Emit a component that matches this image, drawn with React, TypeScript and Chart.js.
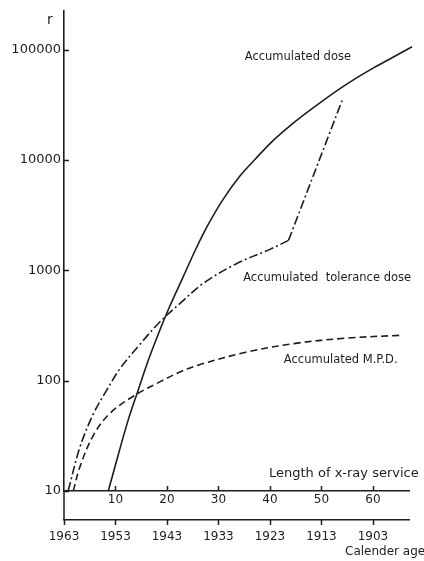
import React, { useEffect, useRef } from "react";
import { Chart, registerables } from "chart.js";

Chart.register(...registerables);

// ---- data ----
const serviceTicks = [10, 20, 30, 40, 50, 60];
const calendarTicks = [1963, 1953, 1943, 1933, 1923, 1913, 1903];
const doseTicks = [10, 100, 1000, 10000, 100000];

const doseYears = [8.6, 10.5, 12.4, 14.4, 16.3, 18.3, 20.6, 23.1, 25.4, 27.8, 30.9, 34.2, 37.3, 40.4, 43.7, 47, 50.3, 53.6, 56.9, 60.2, 63.7, 67.6];
const doseValues = [10, 21, 43, 82, 150, 264, 480, 865, 1490, 2500, 4400, 7200, 10400, 14700, 20100, 26600, 34600, 44400, 55800, 68800, 84700, 106500];

const toleranceYears = [0.8, 3.1, 5.7, 8.3, 10.9, 14.8, 18.6, 22.5, 27, 33.5, 40, 43.6];
const toleranceValues = [10, 25, 50, 82, 129, 215, 340, 500, 760, 1150, 1550, 1870];
const toleranceJumpYears = [43.6, 54];
const toleranceJumpValues = [1870, 34600];

const mpdYears = [1.8, 3.1, 5.7, 8.9, 13.8, 18.6, 22.5, 26.4, 35.3, 45, 54.8, 65.4];
const mpdValues = [10, 16.6, 32, 50.5, 74, 97.5, 120, 140, 181, 218, 243, 258];

const seriesLabels = ["Accumulated dose", "Accumulated  tolerance dose", "Accumulated M.P.D."];
const labelYears = [35.1, 34.8, 42.7];
const labelValues = [85600, 850, 153];

const ink = "#1d1d1d";
const family = "'DejaVu Sans', sans-serif";

const pts = (xs: number[], ys: number[]) => xs.map((x, i) => ({ x, y: ys[i] }));

const decor = {
  id: "decor",
  afterDraw(chart: any) {
    const { ctx, chartArea, scales } = chart;
    const xs = scales.x;
    const cal = scales.cal;
    const y = scales.y;
    ctx.save();
    ctx.strokeStyle = ink;
    ctx.lineWidth = 1.5;
    ctx.beginPath();
    // y axis continues down to the calendar axis
    ctx.moveTo(chartArea.left, chartArea.bottom);
    ctx.lineTo(chartArea.left, cal.top);
    // y ticks pointing inward
    y.ticks.forEach((t: any) => {
      const py = Math.round(y.getPixelForValue(t.value)) + 0.5;
      ctx.moveTo(chartArea.left, py);
      ctx.lineTo(chartArea.left + 5, py);
    });
    // service ticks pointing up
    xs.ticks.forEach((t: any) => {
      const px = Math.round(xs.getPixelForValue(t.value)) + 0.5;
      ctx.moveTo(px, xs.top);
      ctx.lineTo(px, xs.top - 5);
    });
    // calendar ticks pointing down
    cal.ticks.forEach((t: any) => {
      const px = Math.round(cal.getPixelForValue(t.value)) + 0.5;
      ctx.moveTo(px, cal.top);
      ctx.lineTo(px, cal.top + 5);
    });
    ctx.stroke();

    ctx.fillStyle = ink;
    ctx.textBaseline = "middle";
    ctx.textAlign = "left";
    ctx.font = `11.5px ${family}`;
    seriesLabels.forEach((s, i) => {
      ctx.fillText(s, xs.getPixelForValue(labelYears[i]), y.getPixelForValue(labelValues[i]));
    });
    ctx.font = `13px ${family}`;
    ctx.fillText("Length of x-ray service", chartArea.right - 140, xs.top - 17);
    ctx.font = `12px ${family}`;
    ctx.fillText("Calender age", chartArea.right - 64, cal.top + 32);
    ctx.font = `14px ${family}`;
    ctx.textAlign = "center";
    ctx.fillText("r", chartArea.left - 14, chartArea.top + 10);
    ctx.restore();
  },
};

export default function App() {
  const ref = useRef<HTMLCanvasElement>(null);
  useEffect(() => {
    if (!ref.current) return;
    const line = { borderColor: ink, borderWidth: 1.6, pointRadius: 0, fill: false, clip: false as any };
    const chart = new Chart(ref.current, {
      type: "line",
      data: {
        datasets: [
          { ...line, data: pts(doseYears, doseValues), tension: 0.3 },
          { ...line, data: pts(toleranceYears, toleranceValues), tension: 0.35, borderDash: [9, 3, 2, 3] },
          { ...line, data: pts(toleranceJumpYears, toleranceJumpValues), tension: 0, borderDash: [9, 3, 2, 3] },
          { ...line, data: pts(mpdYears, mpdValues), tension: 0.35, borderDash: [7, 4] },
        ] as any,
      },
      options: {
        responsive: false,
        animation: false,
        layout: { padding: { top: 10, right: 15, left: 0, bottom: 0 } },
        plugins: { legend: { display: false }, tooltip: { enabled: false } },
        scales: {
          x: {
            type: "linear",
            position: "bottom",
            min: 0,
            max: 67,
            bounds: "data",
            afterFit: (s: any) => { s.height = 29; },
            afterBuildTicks: (s: any) => { s.ticks = serviceTicks.map((v) => ({ value: v })); },
            grid: { display: false, drawTicks: false },
            border: { display: true, color: ink, width: 1.5 },
            ticks: { color: ink, font: { family, size: 12 }, padding: 2, maxRotation: 0, autoSkip: false, callback: (v: any) => String(v) },
          },
          cal: {
            type: "linear",
            position: "bottom",
            min: 1896,
            max: 1963,
            reverse: true,
            bounds: "data",
            afterFit: (s: any) => { s.height = 41; },
            afterBuildTicks: (s: any) => { s.ticks = calendarTicks.map((v) => ({ value: v })); },
            grid: { display: false, drawTicks: false },
            border: { display: true, color: ink, width: 1.5 },
            ticks: { color: ink, font: { family, size: 12 }, padding: 10, maxRotation: 0, autoSkip: false, callback: (v: any) => String(v) },
          },
          y: {
            type: "logarithmic",
            position: "left",
            min: 10,
            max: 225400,
            bounds: "data",
            afterFit: (s: any) => { s.width = 64; },
            afterBuildTicks: (s: any) => { s.ticks = doseTicks.map((v) => ({ value: v })); },
            grid: { display: false, drawTicks: false },
            border: { display: true, color: ink, width: 1.6 },
            ticks: { color: ink, font: { family, size: 13 }, padding: 3, autoSkip: false, callback: (v: any) => String(v) },
          },
        } as any,
      },
      plugins: [decor],
    });
    return () => chart.destroy();
  }, []);
  return (
    <div style={{ position: "fixed", left: 0, top: 0, width: 424, height: 561, background: "#fff" }}>
      <canvas ref={ref} width={424} height={561} />
    </div>
  );
}
